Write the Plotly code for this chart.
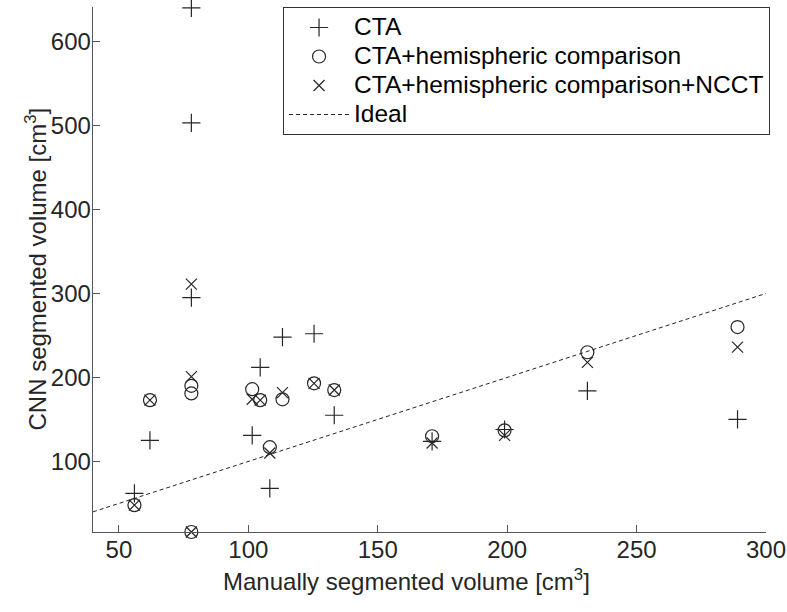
import plotly.graph_objects as go

# Manually segmented volume per patient [cm^3]
manual = [56, 62, 78, 78, 78, 101.5, 104.6, 108.3, 113.2, 125.4, 133.2, 171, 199, 231, 289]
# CNN segmented volumes [cm^3]
cta = [62, 125, 640, 503, 295, 131, 212, 68, 248, 252, 155, 124, 138, 184, 150]
cta_hemi = [48, 173, 190, 181, 16, 186, 173, 117, 174, 193, 185, 130, 137, 230, 260]
cta_hemi_ncct = [48, 173, 311, 201, 16, 174, 173, 110, 182, 193, 185, 122, 131, 218, 236]
ideal_x = [40, 300]
ideal_y = [40, 300]

x_ticks = [50, 100, 150, 200, 250, 300]
y_ticks = [100, 200, 300, 400, 500, 600]

x_title = "Manually segmented volume [cm<sup>3</sup>]"
y_title = "CNN segmented volume [cm<sup>3</sup>]"

ink = "#262626"
font = "Liberation Sans, Arial, sans-serif"


def lg(name):
    return '<span style="font-size:24.5px">' + name + '</span>'


fig = go.Figure()
fig.add_trace(go.Scatter(x=manual, y=cta, mode="markers", name=lg("CTA"),
                         marker=dict(symbol="cross-thin-open", size=13, color=ink,
                                     line=dict(width=1.2, color=ink)),
                         cliponaxis=False))
fig.add_trace(go.Scatter(x=manual, y=cta_hemi, mode="markers",
                         name=lg("CTA+hemispheric comparison"),
                         marker=dict(symbol="circle-open", size=13, color=ink,
                                     line=dict(width=1.2, color=ink)),
                         cliponaxis=False))
fig.add_trace(go.Scatter(x=manual, y=cta_hemi_ncct, mode="markers",
                         name=lg("CTA+hemispheric comparison+NCCT"),
                         marker=dict(symbol="x-thin-open", size=11, color=ink,
                                     line=dict(width=1.2, color=ink)),
                         cliponaxis=False))
fig.add_trace(go.Scatter(x=ideal_x, y=ideal_y, mode="lines", name=lg("Ideal"),
                         line=dict(color=ink, width=1, dash="4px,3px")))

fig.update_layout(
    width=787, height=612,
    margin=dict(l=93, r=21, t=7, b=80, autoexpand=False),
    paper_bgcolor="white", plot_bgcolor="white",
    font=dict(family=font, size=24, color=ink),
    showlegend=True,
    hovermode=False,
    legend=dict(x=1.006, xanchor="right", y=1.0, yanchor="top",
                bgcolor="white", bordercolor="#333333", borderwidth=1,
                font=dict(size=20, color="black"), itemwidth=60,
                tracegroupgap=0),
    xaxis=dict(range=[40, 300], tickvals=x_ticks, ticks="inside", ticklen=7,
               tickcolor="#555555", showline=True, linecolor="#555555", linewidth=1.3,
               showgrid=False, zeroline=False, mirror=False, automargin=False,
               tickfont=dict(size=24, color=ink), ticklabelstandoff=-4),
    yaxis=dict(range=[16, 641], tickvals=y_ticks, ticks="inside", ticklen=7,
               tickcolor="#555555", showline=True, linecolor="#555555", linewidth=1.3,
               showgrid=False, zeroline=False, mirror=False, automargin=False,
               tickfont=dict(size=24, color=ink), ticklabelstandoff=-4),
    annotations=[
        dict(text=x_title, xref="paper", yref="paper", x=0.5, y=0,
             xanchor="center", yanchor="middle", xshift=-23, yshift=-48,
             showarrow=False, font=dict(size=24, color=ink)),
        dict(text=y_title, xref="paper", yref="paper", x=0, y=0.5,
             xanchor="center", yanchor="middle", xshift=-58, yshift=0,
             textangle=-90, showarrow=False, font=dict(size=24, color=ink)),
    ],
)

fig.write_html("out.html", config={"displayModeBar": False, "staticPlot": True},
               post_script="document.body.style.margin='0';document.body.style.padding='0';")
